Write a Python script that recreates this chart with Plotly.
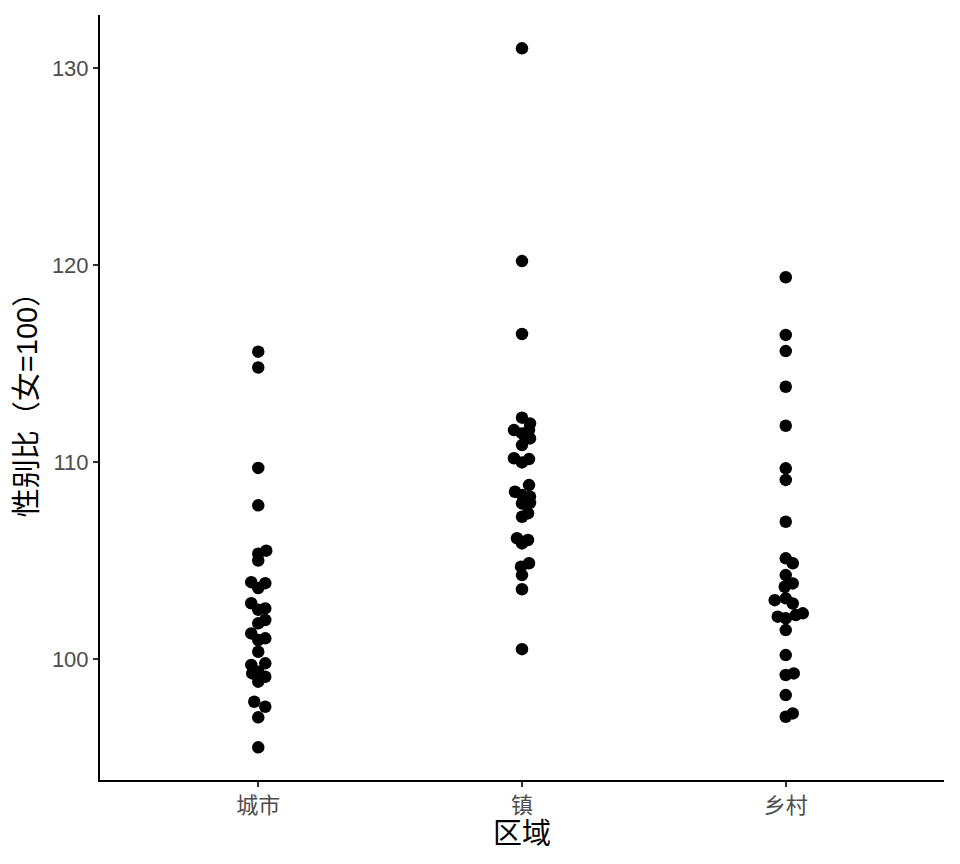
import plotly.graph_objects as go

categories = ["城市", "镇", "乡村"]

urban_values = [115.6, 114.8, 109.7, 107.8, 105.5, 105.35, 105.0, 103.9, 103.85, 103.6,
                102.83, 102.57, 102.5, 101.98, 101.81, 101.3, 101.05, 100.96, 100.37,
                99.7, 99.78, 99.36, 99.27, 99.1, 98.85, 97.83, 97.58, 97.04, 95.52]
urban_jitter = [0, 0, 0, 0, 8, 0, 0, -7, 7, 0,
                -7, 7, 0, 7, 0, -7, 7, 0, 0,
                -7, 7, 0, -6, 7, 0, -4, 7, 0, 0]

town_values = [131.0, 120.2, 116.5, 112.25, 111.96, 111.62, 111.62, 111.45, 111.2, 110.86,
               110.19, 110.15, 109.98, 108.83, 108.49, 108.32, 108.24, 107.9, 107.93,
               107.4, 107.22, 106.13, 106.04, 105.87, 104.86, 104.69, 104.26, 103.54, 100.5]
town_jitter = [0, 0, 0, 0, 8, -8, 7, 0, 8, 0,
               -8, 7, 0, 7, -7, 0, 8, 0, 8,
               6, 0, -5, 6, 0, 7, -1, 0, 0, 0]

rural_values = [119.38, 116.45, 115.63, 113.82, 111.84, 109.68, 109.09, 106.97, 105.11,
                104.86, 104.26, 103.84, 103.67, 102.99, 103.08, 102.82, 102.15, 102.07,
                102.23, 102.32, 101.47, 100.2, 99.19, 99.27, 98.17, 97.07, 97.24]
rural_jitter = [0, 0, 0, 0, 0, 0, 0, 0, 0,
                7, 0, 7, -1, -11, 0, 7, -8, 0,
                10, 17, 0, 0, 0, 8, 0, 0, 7]

y_ticks = [100, 110, 120, 130]

# jitter values are in pixels; convert to category units (one category = ~263.5 px)
px_per_cat = 263.5

fig = go.Figure()
for i, (vals, jit) in enumerate([(urban_values, urban_jitter),
                                 (town_values, town_jitter),
                                 (rural_values, rural_jitter)]):
    fig.add_trace(go.Scatter(
        x=[i + j / px_per_cat for j in jit],
        y=vals,
        mode="markers",
        marker=dict(color="black", size=12.5, line=dict(width=0)),
        showlegend=False,
        hoverinfo="y",
    ))

font_family = "Liberation Sans, Noto Sans CJK SC, sans-serif"

fig.update_layout(
    width=952, height=856,
    margin=dict(l=92, r=16, t=7, b=84),
    plot_bgcolor="white", paper_bgcolor="white",
    font=dict(family=font_family, color="black"),
    xaxis=dict(
        range=[-0.6, 2.6],
        tickmode="array", tickvals=[0, 1, 2], ticktext=categories,
        showgrid=False, zeroline=False,
        showline=True, linecolor="black", linewidth=2,
        ticks="outside", ticklen=5, tickwidth=1.5, tickcolor="#333333",
        tickfont=dict(size=22, color="#4D4D4D", family=font_family),
        title=dict(text="区域", font=dict(size=29, color="black", family=font_family), standoff=3),
    ),
    yaxis=dict(
        range=[93.86, 132.69],
        tickmode="array", tickvals=y_ticks, ticktext=[str(t) for t in y_ticks],
        showgrid=False, zeroline=False,
        showline=True, linecolor="black", linewidth=2,
        ticks="outside", ticklen=5, tickwidth=1.5, tickcolor="#333333",
        tickfont=dict(size=22, color="#4D4D4D", family=font_family),
        title=dict(text="性别比（女=100）", font=dict(size=29, color="black", family=font_family), standoff=6),
    ),
)

fig.write_html("out.html")
